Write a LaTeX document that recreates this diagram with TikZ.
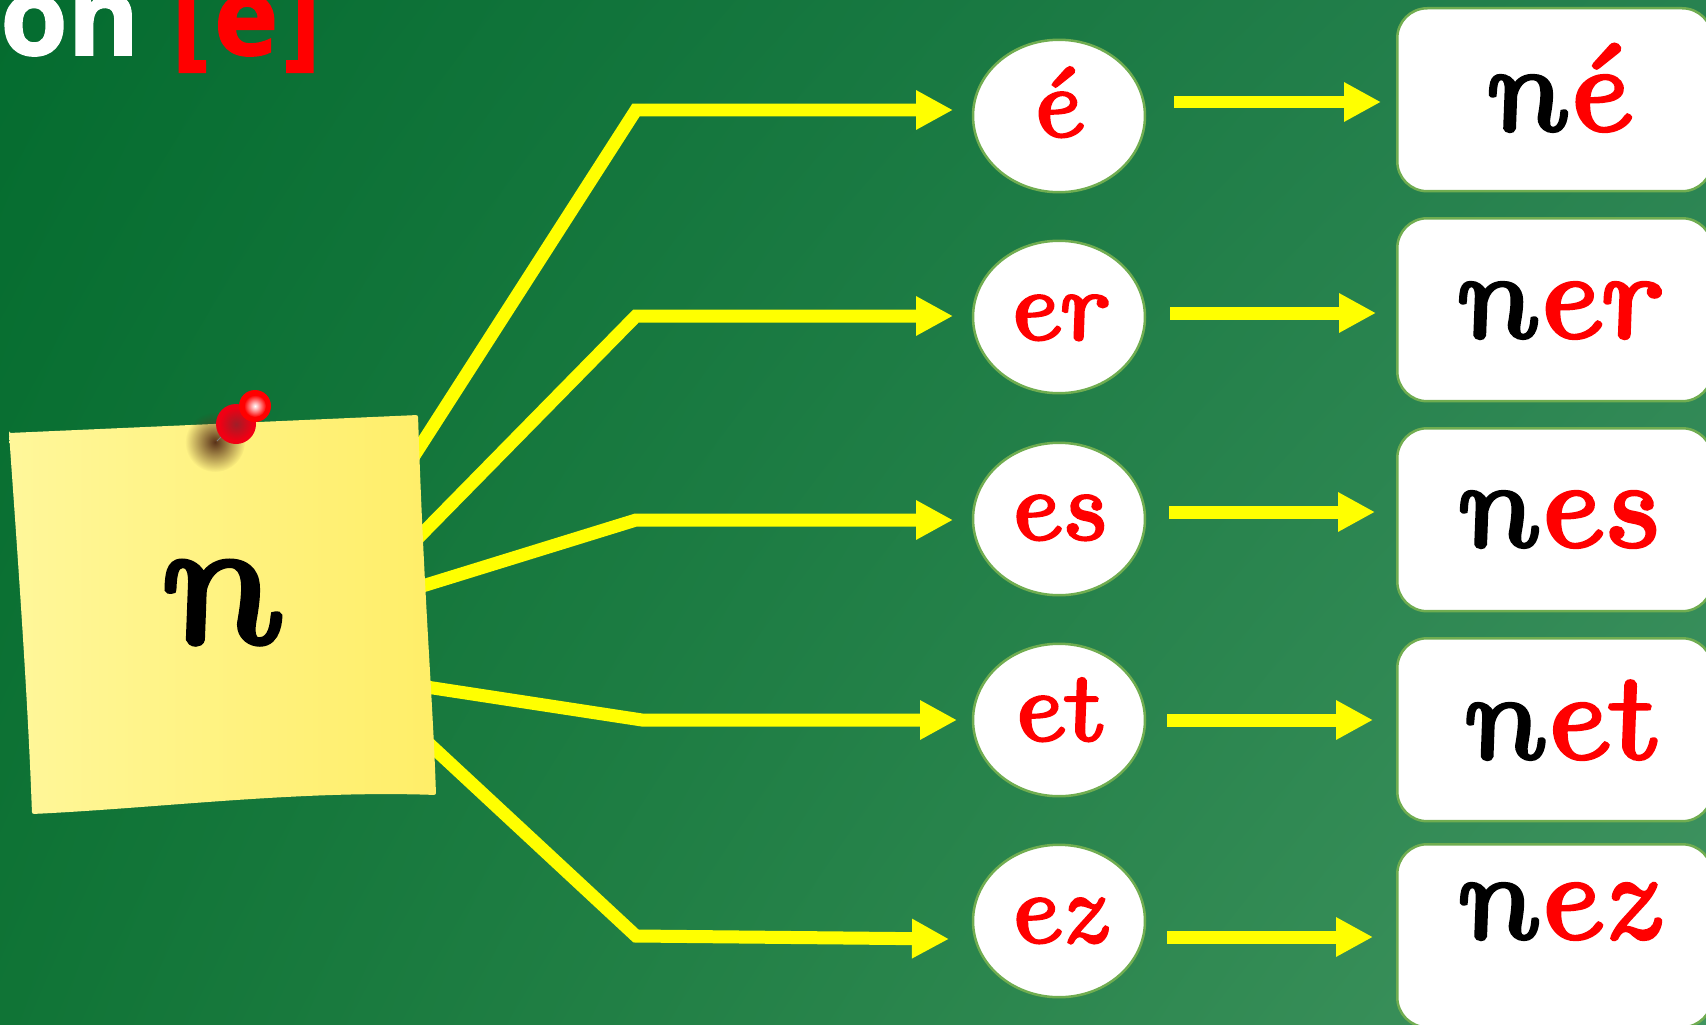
\documentclass[tikz,border=0pt]{standalone}
\usepackage{fontspec}
\usetikzlibrary{shapes.geometric, arrows.meta, fadings, shadings}
\newfontfamily\titlefont{Open Sans}[BoldFeatures={FakeBold=1.5}]
\newfontface\cursivefont{lmroman10-italic.otf}[FakeBold=3, FakeSlant=-0.25, FakeStretch=1.15]
\definecolor{boardtl}{RGB}{4,108,47}
\definecolor{boardtr}{RGB}{40,130,80}
\definecolor{boardbl}{RGB}{16,116,54}
\definecolor{boardbr}{RGB}{64,148,96}
\definecolor{arrowyellow}{RGB}{255,255,0}
\definecolor{cardgreen}{RGB}{112,173,80}
\definecolor{noteleft}{RGB}{255,247,154}
\definecolor{noteright}{RGB}{255,238,104}
\definecolor{pinred}{RGB}{240,0,20}
\definecolor{pindark}{RGB}{160,30,40}
\definecolor{pinshadow}{RGB}{90,50,25}
\tikzfading[name=pinglow, inner color=transparent!0, outer color=transparent!100]
\tikzset{
    yellowline/.style={draw=arrowyellow, line width=0.26cm},
    yellowarrow/.style={yellowline, -{Triangle[length=0.74cm, width=0.74cm]}},
    soundbubble/.style={ellipse, draw=cardgreen, line width=0.05cm, fill=white,
        minimum width=3.44cm, minimum height=3.05cm, inner sep=0pt},
    wordcard/.style={draw=cardgreen, line width=0.05cm, fill=white, rounded corners=0.6cm,
        minimum width=6.3cm, minimum height=3.66cm, anchor=north west},
    soundtext/.style={anchor=base, inner sep=0pt, text=red,
        font=\cursivefont\fontsize{56}{56}\selectfont},
    wordtext/.style={anchor=base, inner sep=0pt, text=black,
        font=\cursivefont\fontsize{70}{70}\selectfont}
}

\begin{document}
\begin{tikzpicture}[x=0.02cm, y=-0.02cm]
    % Board
    \clip (0,0) rectangle (1706,1024);
    \shade[upper left=boardtl, upper right=boardtr, lower left=boardbl, lower right=boardbr]
          (0,0) rectangle (1706,1024);

    % Title
    \node[anchor=base west, inner sep=0pt, text=white,
          font=\titlefont\bfseries\fontsize{62}{62}\selectfont] (title) at (0,55)
          {on\hspace{0.65cm}\textcolor{red}{[\hspace{0.12cm}e\hspace{0.12cm}]}};

    % Ends of the branches
    \coordinate (leave1) at (412,459);
    \coordinate (leave2) at (415,541);
    \coordinate (leave3) at (416,588);
    \coordinate (leave4) at (420,686);
    \coordinate (leave5) at (425,740);
    \coordinate (elbow1) at (636,110);
    \coordinate (elbow2) at (636,316);
    \coordinate (elbow3) at (636,520);
    \coordinate (elbow4) at (642,720);
    \coordinate (elbow5) at (636,936);
    \coordinate (reach1) at (953,110);
    \coordinate (reach2) at (953,316);
    \coordinate (reach3) at (953,520);
    \coordinate (reach4) at (957,720);
    \coordinate (reach5) at (949,939);

    % Branches
    \draw[yellowarrow] (leave1) -- (elbow1) -- (reach1);
    \draw[yellowarrow] (leave2) -- (elbow2) -- (reach2);
    \draw[yellowarrow] (leave3) -- (elbow3) -- (reach3);
    \draw[yellowarrow] (leave4) -- (elbow4) -- (reach4);
    \draw[yellowarrow] (leave5) -- (elbow5) -- (reach5);

    % Note
    \shade[left color=noteleft, right color=noteright, rounded corners=0.04cm]
          (9,433) -- (418,415) .. controls (424,600) and (433,700) .. (436,795)
          .. controls (300,790) and (160,808) .. (32,814)
          .. controls (28,700) and (18,560) .. cycle;
    \node[anchor=base, inner sep=0pt, text=black,
          font=\cursivefont\fontsize{104}{104}\selectfont] (letter) at (222,642) {n};

    % Pin
    \fill[pinshadow, path fading=pinglow] (215,442) circle (30);
    \draw[gray, line width=0.02cm] (217,441) -- (222,436);
    \fill[pinred] (236,424) circle (20);
    \fill[pindark, path fading=pinglow] (236,424) circle (16);
    \fill[red] (255,406) circle (16);
    \fill[white, path fading=pinglow] (255,406) circle (11);

    % Sounds
    \node[soundbubble] (bubble1) at (1059,116) {};
    \node[soundbubble] (bubble2) at (1059,317) {};
    \node[soundbubble] (bubble3) at (1059,519) {};
    \node[soundbubble] (bubble4) at (1059,720) {};
    \node[soundbubble] (bubble5) at (1059,921) {};
    \node[soundtext] (sound1) at (1058,136) {é};
    \node[soundtext] (sound2) at (1059,339) {er};
    \node[soundtext] (sound3) at (1059,539) {es};
    \node[soundtext] (sound4) at (1058,740) {et};
    \node[soundtext] (sound5) at (1059,942) {ez};

    % Words
    \node[wordcard] (card1) at (1396,7) {};
    \node[wordcard] (card2) at (1396,217) {};
    \node[wordcard] (card3) at (1396,427) {};
    \node[wordcard] (card4) at (1396,637) {};
    \node[wordcard] (card5) at (1396,843) {};
    \node[wordtext] (word1) at (1560,130) {n\textcolor{red}{é}};
    \node[wordtext] (word2) at (1560,337) {n\textcolor{red}{er}};
    \node[wordtext] (word3) at (1560,546) {n\textcolor{red}{es}};
    \node[wordtext] (word4) at (1561,758) {n\textcolor{red}{et}};
    \node[wordtext] (word5) at (1560,938) {n\textcolor{red}{ez}};

    % Arrows to the words
    \coordinate (from1) at (1174,102);
    \coordinate (from2) at (1170,313);
    \coordinate (from3) at (1169,512);
    \coordinate (from4) at (1167,720);
    \coordinate (from5) at (1167,937);
    \coordinate (to1) at (1381,102);
    \coordinate (to2) at (1376,313);
    \coordinate (to3) at (1375,512);
    \coordinate (to4) at (1373,720);
    \coordinate (to5) at (1373,937);
    \draw[yellowarrow] (from1) -- (to1);
    \draw[yellowarrow] (from2) -- (to2);
    \draw[yellowarrow] (from3) -- (to3);
    \draw[yellowarrow] (from4) -- (to4);
    \draw[yellowarrow] (from5) -- (to5);
\end{tikzpicture}
\end{document}
